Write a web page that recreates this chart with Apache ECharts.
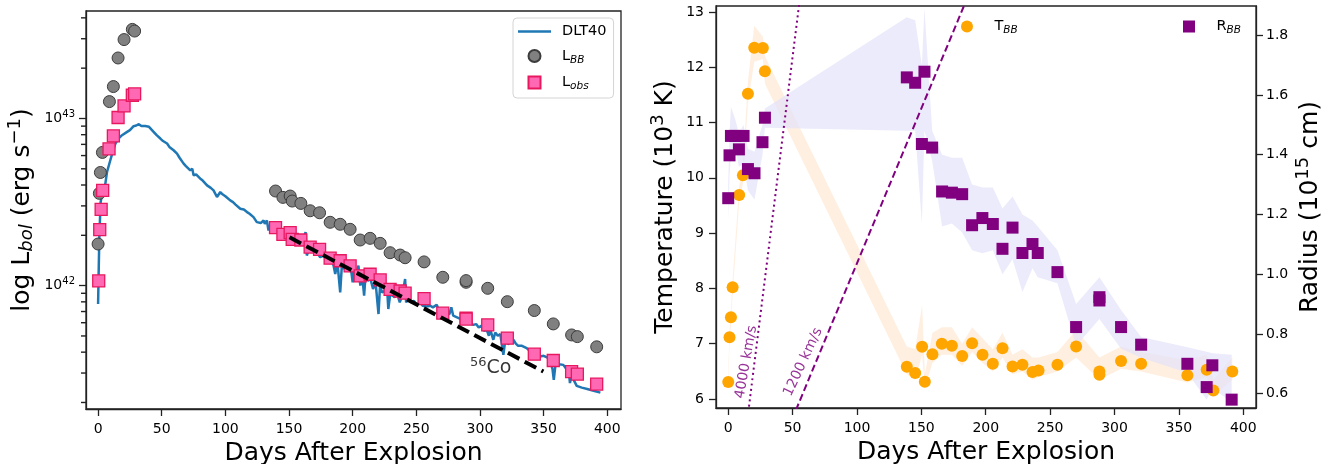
<!DOCTYPE html>
<html><head><meta charset="utf-8">
<script src="https://cdn.jsdelivr.net/npm/echarts@6/dist/echarts.min.js"></script>
<style>html,body{margin:0;padding:0;background:#fff}#c{width:1327px;height:464px}</style>
</head><body><div id="c"></div>
<script>
// ---------- DATA (left panel: day, log10 L) ----------
const dlt40 = [[0,41.89],[0.5,42.1],[1,42.3],[2,42.5],[3.5,42.56],[5.7,42.61],[7,42.68],[9.6,42.75],[11.5,42.8],[13.6,42.85],[16,42.88],[18.8,42.9],[22.8,42.92],[25,42.93],[27.9,42.954],[30,42.958],[32,42.966],[34,42.955],[35.5,42.962],[37,42.955],[40,42.95],[43.6,42.92],[46,42.9],[48.9,42.88],[51,42.865],[54.2,42.85],[56,42.83],[59.3,42.81],[62,42.79],[64,42.765],[67.2,42.73],[69,42.715],[70.5,42.72],[72.4,42.69],[74,42.7],[75,42.66],[77,42.665],[80.3,42.64],[82,42.63],[83,42.64],[85.6,42.6],[87,42.605],[88.5,42.585],[90.7,42.57],[92,42.575],[93.4,42.53],[96,42.56],[98,42.545],[100,42.535],[103.8,42.51],[106,42.5],[108,42.485],[111.7,42.46],[113,42.45],[114.5,42.455],[117,42.44],[119,42.43],[122.1,42.41],[124.7,42.38],[126,42.39],[128,42.375],[130,42.39],[131,42.37],[132.6,42.39],[133.9,42.33],[135,42.36],[137,42.34],[140,42.33],[143,42.31],[146,42.3],[148,42.305],[150,42.29],[152,42.28],[155,42.27],[158,42.275],[161,42.26],[163,42.32],[164,42.18],[166,42.23],[169,42.215],[172,42.2],[174.5,42.17],[177,42.18],[180,42.16],[183,42.16],[185,42.12],[186.3,42.07],[188,42.14],[190.2,41.96],[191.5,42.12],[193,42.1],[195,42.13],[197,42.1],[199,42.08],[200,42.02],[201,42.09],[203,42.07],[204.5,42.12],[206,42.0],[207.5,42.06],[209,41.94],[210,42.05],[212,42.03],[214,42.04],[216,41.98],[218,42.02],[220.3,41.83],[221.5,42.0],[223,41.96],[225.5,41.97],[227,41.99],[228,41.86],[229.5,41.95],[231,41.96],[233,41.93],[235,41.95],[237,41.9],[239,41.94],[241.2,42.04],[242,41.9],[244,41.92],[246,41.9],[248,41.91],[250.4,41.885],[253,41.9],[255,41.88],[258,41.875],[261,41.88],[263,41.87],[266,41.885],[268,41.85],[270,41.84],[273,41.83],[276,41.83],[277.5,41.87],[279,41.82],[282,41.81],[285,41.8],[288,41.8],[291,41.78],[294.8,41.765],[297,41.77],[299,41.75],[301,41.76],[303,41.73],[305.3,41.735],[307,41.7],[308,41.74],[310.5,41.676],[312,41.72],[314,41.7],[316,41.71],[318.4,41.586],[320,41.68],[322,41.65],[324,41.66],[326.2,41.676],[328,41.655],[330,41.64],[333,41.64],[336.7,41.626],[339,41.61],[342,41.6],[344,41.59],[347.2,41.576],[350,41.58],[353,41.57],[355,41.56],[357,41.5],[358,41.437],[359.5,41.54],[362,41.53],[365.5,41.526],[368,41.5],[370,41.47],[370.7,41.417],[372,41.47],[374,41.43],[376,41.4],[380,41.39],[385,41.38],[390,41.37],[394.6,41.36]];
const lbb = [[0,42.249],[1,42.552],[1.8,42.677],[3.4,42.797],[8.9,43.101],[12,43.191],[15.7,43.362],[20.4,43.472],[26.9,43.533],[28.7,43.523],[139.4,42.566],[145.2,42.528],[150.9,42.536],[152.5,42.506],[159.3,42.492],[166.6,42.448],[174,42.436],[182.3,42.379],[190.2,42.367],[198,42.337],[205.9,42.273],[213.7,42.283],[221.6,42.253],[229.4,42.197],[237.3,42.183],[241.2,42.167],[256.1,42.142],[270.8,42.05],[289.1,42.02],[289.1,42.03],[306.1,41.984],[321.5,41.904],[342.7,41.851],[357.6,41.771],[372,41.705],[376.5,41.695],[391.7,41.634]];
const lobs = [[0.5,42.028],[1.3,42.335],[2.4,42.456],[3.6,42.57],[8.6,42.818],[12,42.896],[15.7,43.006],[20.4,43.075],[26.9,43.139],[28.7,43.147],[139.4,42.347],[145.2,42.307],[150.9,42.317],[152.5,42.277],[159.3,42.273],[166.6,42.231],[174,42.217],[182.3,42.164],[190.2,42.149],[198,42.118],[205.9,42.058],[213.7,42.068],[221.6,42.034],[229.4,41.978],[237.3,41.968],[241.2,41.955],[256.1,41.922],[270.8,41.835],[289.1,41.805],[289.1,41.8],[306.1,41.765],[321.5,41.686],[342.7,41.59],[357.6,41.552],[372,41.486],[376.5,41.471],[391.7,41.411]];
const co56Line = [[150.4,42.289],[349.8,41.486]];
const co56LabelPos = [308.4,41.508];
const lumMajorExp = [42,43];
const lumMinorTicks = [2e41,3e41,4e41,5e41,6e41,7e41,8e41,9e41,2e42,3e42,4e42,5e42,6e42,7e42,8e42,9e42,2e43,3e43,4e43];
const dayTicks = [0,50,100,150,200,250,300,350,400];

// ---------- DATA (right panel) ----------
const tbb = [[0,6.307],[1,7.119],[2.1,7.48],[3.4,8.02],[8.5,9.688],[11.4,10.049],[15.3,11.523],[20.2,12.354],[26.9,12.347],[28.5,11.926],[138.7,6.583],[145.2,6.469],[150.6,6.944],[152.7,6.312],[158.6,6.812],[165.9,6.998],[173.7,6.962],[181.7,6.78],[189.4,7.01],[197.5,6.8],[205.5,6.637],[213,6.92],[220.8,6.59],[228.5,6.62],[236.3,6.487],[241,6.517],[255.7,6.619],[270.2,6.95],[288.3,6.498],[288.3,6.44],[305.1,6.69],[320.7,6.637],[356.6,6.43],[371.6,6.529],[376.8,6.155],[391.5,6.498]];
const rbb = [[0,1.2545],[1,1.398],[2.1,1.463],[5.4,1.463],[8.3,1.418],[11.9,1.463],[15.3,1.352],[20.4,1.338],[26.6,1.442],[28.5,1.524],[138.7,1.659],[145.2,1.641],[150.4,1.436],[152.4,1.678],[158.4,1.424],[166.1,1.277],[173.7,1.273],[181.7,1.268],[189.4,1.164],[197.4,1.188],[205.5,1.168],[213,1.085],[220.8,1.156],[228.5,1.071],[236.3,1.101],[240.4,1.071],[255.7,1.007],[270.2,0.823],[288.3,0.923],[288.3,0.912],[305.1,0.823],[320.7,0.764],[356.6,0.7],[371.6,0.622],[376,0.695],[391,0.58]];
// bands: [day, low, high]
const tBand = [[0,6.2,6.45],[1,7.0,7.25],[2.1,7.35,7.6],[3.4,7.9,8.15],[8.5,9.55,9.85],[11.4,9.9,10.25],[15.3,11.35,11.75],[20.2,12.1,12.75],[26.9,12.15,12.55],[28.5,11.7,12.2],[138.7,6.45,6.95],[145.2,6.35,6.9],[150.6,6.8,7.7],[152.7,6.2,6.45],[158.6,6.65,7.2],[165.9,6.8,7.3],[173.7,6.8,7.3],[181.7,6.6,7.0],[189.4,6.85,7.3],[197.5,6.65,7.1],[205.5,6.5,6.9],[213,6.75,7.2],[220.8,6.45,6.8],[228.5,6.5,6.9],[236.3,6.35,6.75],[241,6.4,6.75],[255.7,6.5,6.85],[270.2,6.75,7.25],[288.3,6.35,6.75],[305.1,6.55,6.95],[320.7,6.5,6.85],[356.6,6.3,6.7],[371.6,6.4,6.8],[376.8,6.05,6.35],[391.5,6.35,6.75]];
const rBand = [[0,1.18,1.3],[1,1.33,1.47],[2.1,1.4,1.56],[5.4,1.42,1.52],[8.3,1.36,1.47],[11.9,1.37,1.5],[15.3,1.28,1.42],[20.4,1.25,1.41],[26.6,1.4,1.5],[28.5,1.49,1.555],[138.7,1.48,1.86],[145.2,1.48,1.85],[150.4,1.17,1.7],[152.4,1.48,1.89],[158.4,1.38,1.48],[166.1,1.16,1.4],[173.7,1.17,1.39],[181.7,1.14,1.39],[189.4,1.08,1.3],[197.4,1.07,1.29],[205.5,1.08,1.29],[213,1.0,1.22],[220.8,1.05,1.26],[228.5,0.94,1.2],[236.3,1.02,1.18],[240.4,0.99,1.16],[255.7,0.97,1.08],[270.2,0.76,0.9],[288.3,0.85,0.99],[305.1,0.75,0.88],[320.7,0.72,0.79],[356.6,0.67,0.755],[371.6,0.58,0.74],[376,0.62,0.735],[391,0.57,0.73]];
const vel4000 = [[10,0.3456],[60,2.0736]];
const vel1200 = [[40,0.41472],[200,2.0736]];
const velLabels = [{name:'4000 km/s', pos:[14.0,6.67], rot:80},{name:'1200 km/s', pos:[58.2,6.67], rot:65}];
const tempTicks = [6,7,8,9,10,11,12,13];
const radTicks = [0.6,0.8,1.0,1.2,1.4,1.6,1.8];

// ---------- CHART ----------
const toL = a => a.map(p => [p[0], Math.pow(10, p[1])]);
const AX = '#222';
const FONT = 'DejaVu Sans';
const lineStyle = {color: AX, width: 1.3};
const LINE_ICON = 'path://M0,0H33V2.5H0Z';
const SQUARE_ICON = 'path://M0,0H10V10H0Z';
const LEFT_XMIN = -9.5, LEFT_XMAX = 410.8;

function xAxisDef(grid, min, max) {
  return {type:'value', gridIndex:grid, min:min, max:max, position:'bottom',
    axisLine:{show:true, onZero:false, lineStyle}, splitLine:{show:false},
    axisTick:{show:true, length:7, customValues:dayTicks, lineStyle},
    axisLabel:{customValues:dayTicks, fontSize:14, color:'#000', margin:13, fontFamily:FONT},
    name:'Days After Explosion', nameLocation:'middle', nameGap:32,
    nameTextStyle:{fontSize:25, color:'#000', fontFamily:FONT}};
}

function bandRender(band, fill) {
  return function(params, api) {
    if (params.dataIndex !== 0) return;
    const up = band.map(b => api.coord([b[0], b[2]]));
    const lo = band.slice().reverse().map(b => api.coord([b[0], b[1]]));
    return {type:'polygon', shape:{points: up.concat(lo)}, style:{fill: fill}};
  };
}

const legendNames = {'DLT40':'DLT40', 'L_BB':'L{sub|BB}', 'L_obs':'L{sub|obs}', 'T_BB':'T{sub|BB}', 'R_BB':'R{sub|BB}'};
const legendText = {fontSize:14.5, color:'#000', fontFamily:FONT, padding:[0,0,0,6],
  rich:{sub:{fontSize:10.5, fontStyle:'italic', fontFamily:FONT, padding:[8,0,0,0]}}};

const chart = echarts.init(document.getElementById('c'), null, {renderer:'canvas'});
chart.setOption({
  animation:false,
  textStyle:{fontFamily:FONT},
  grid:[
    {left:86, top:11, width:535, height:398, show:true, borderColor:AX, borderWidth:1.3, backgroundColor:'transparent',
     containLabel:false, outerBoundsMode:'none'},
    {left:716, top:6, width:540, height:402, show:true, borderColor:AX, borderWidth:1.3, backgroundColor:'transparent',
     containLabel:false, outerBoundsMode:'none'}
  ],
  xAxis:[ xAxisDef(0, LEFT_XMIN, LEFT_XMAX), xAxisDef(1, -9.5, 409.9) ],
  yAxis:[
    {type:'log', logBase:10, gridIndex:0, position:'left', min:Math.pow(10,41.262), max:Math.pow(10,43.643),
     axisLine:{show:true, onZero:false, lineStyle}, splitLine:{show:false}, minorTick:{show:false},
     axisTick:{show:true, length:7, customValues:lumMajorExp.map(e=>Math.pow(10,e)), lineStyle},
     axisLabel:{customValues:lumMajorExp.map(e=>Math.pow(10,e)), margin:11, fontSize:14, color:'#000',
       formatter: v => '10{sup|' + Math.round(Math.log10(v)) + '}',
       rich:{sup:{fontSize:10, fontFamily:FONT, padding:[0,0,9,0]}}},
     name:'log L{sub|bol} (erg s{sup|−1})', nameLocation:'middle', nameGap:48, nameRotate:90,
     nameTextStyle:{fontSize:25, color:'#000', fontFamily:FONT,
       rich:{sub:{fontSize:18, fontStyle:'italic', fontFamily:FONT, padding:[10,0,0,0]},
             sup:{fontSize:18, fontFamily:FONT, padding:[0,0,14,0]}}}},
    {type:'value', gridIndex:1, position:'left', min:5.838, max:13.108,
     axisLine:{show:true, onZero:false, lineStyle}, splitLine:{show:false},
     axisTick:{show:true, length:7, customValues:tempTicks, lineStyle},
     axisLabel:{customValues:tempTicks, fontSize:14, color:'#000', margin:12},
     name:'Temperature (10{sup|3} K)', nameLocation:'middle', nameGap:35, nameRotate:90,
     nameTextStyle:{fontSize:25, color:'#000', fontFamily:FONT,
       rich:{sup:{fontSize:18, fontFamily:FONT, padding:[0,0,14,0]}}}},
    {type:'value', gridIndex:1, position:'right', min:0.552, max:1.898,
     axisLine:{show:true, onZero:false, lineStyle}, splitLine:{show:false},
     axisTick:{show:true, length:7, customValues:radTicks, lineStyle},
     axisLabel:{customValues:radTicks, fontSize:14, color:'#000', margin:10, formatter: v => v.toFixed(1)},
     name:'Radius (10{sup|15} cm)', nameLocation:'middle', nameGap:38, nameRotate:90,
     nameTextStyle:{fontSize:25, color:'#000', fontFamily:FONT,
       rich:{sup:{fontSize:18, fontFamily:FONT, padding:[0,0,14,0]}}}}
  ],
  legend:[
    {data:[{name:'DLT40', icon:LINE_ICON},{name:'L_BB', icon:'circle'},{name:'L_obs', icon:SQUARE_ICON}],
     orient:'vertical', left:513, top:18, itemWidth:33, itemHeight:12, itemGap:9.5, symbolKeepAspect:true,
     padding:[6,7,6,5], backgroundColor:'#fff', borderColor:'#d4d4d4', borderWidth:1, borderRadius:4,
     formatter: n => legendNames[n], textStyle:legendText, selectedMode:false},
    {data:[{name:'T_BB', icon:'circle'}], left:961, top:19, itemWidth:33, itemHeight:12, padding:0, symbolKeepAspect:true,
     formatter: n => legendNames[n], textStyle:legendText, selectedMode:false},
    {data:[{name:'R_BB', icon:SQUARE_ICON}], left:1183, top:19, itemWidth:33, itemHeight:12, padding:0, symbolKeepAspect:true,
     formatter: n => legendNames[n], textStyle:legendText, selectedMode:false}
  ],
  series:[
    {name:'DLT40', type:'line', xAxisIndex:0, yAxisIndex:0, data:toL(dlt40), symbol:'none', showSymbol:false,
     lineStyle:{color:'#1f77b4', width:2.5}, itemStyle:{color:'#1f77b4'}, z:2},
    {name:'L_BB', type:'scatter', xAxisIndex:0, yAxisIndex:0, data:toL(lbb), symbol:'circle', symbolSize:12,
     itemStyle:{color:'#808080', borderColor:'#3c3c3c', borderWidth:1, opacity:1}, z:3},
    {name:'L_obs', type:'scatter', xAxisIndex:0, yAxisIndex:0, data:toL(lobs), symbol:'rect', symbolSize:12,
     itemStyle:{color:'#FF69B4', borderColor:'#E8185F', borderWidth:1.3, opacity:1}, z:4},
    {name:'co56', type:'line', xAxisIndex:0, yAxisIndex:0, data:toL(co56Line), symbol:'none',
     lineStyle:{color:'#000', width:4, type:[13,6]}, z:5, silent:true},
    {name:'co56label', type:'scatter', xAxisIndex:0, yAxisIndex:0, data:toL([co56LabelPos]), symbolSize:0, silent:true,
     label:{show:true, position:'inside', formatter:'{sup|56}{co|Co}', color:'#000',
       rich:{sup:{fontSize:13, fontFamily:FONT, color:'#000', padding:[0,0,10,0]}, co:{fontSize:19, fontFamily:FONT, color:'#000'}}}, z:6},
    // minor ticks of the log axis, drawn at the left spine through the axis scales
    {name:'minorTicks', type:'custom', xAxisIndex:0, yAxisIndex:0, clip:false, silent:true, z:10,
     data: lumMinorTicks.map(v => [LEFT_XMIN, v]),
     renderItem: (params, api) => {
       const p = api.coord([api.value(0), api.value(1)]);
       return {type:'rect', shape:{x:p[0]-5, y:p[1]-0.7, width:5, height:1.4}, style:{fill:AX}};
     }},

    {name:'tband', type:'custom', xAxisIndex:1, yAxisIndex:1, data:tBand, encode:{x:0, y:[1,2]},
     renderItem: bandRender(tBand, 'rgba(255,195,140,0.27)'), clip:true, silent:true, z:1},
    {name:'rband', type:'custom', xAxisIndex:1, yAxisIndex:2, data:rBand, encode:{x:0, y:[1,2]},
     renderItem: bandRender(rBand, 'rgba(226,226,250,0.7)'), clip:true, silent:true, z:1},
    {name:'v4000', type:'line', xAxisIndex:1, yAxisIndex:2, data:vel4000, symbol:'none', clip:true,
     lineStyle:{color:'#800080', width:2, type:[2,3.3]}, z:2, silent:true},
    {name:'v1200', type:'line', xAxisIndex:1, yAxisIndex:2, data:vel1200, symbol:'none', clip:true,
     lineStyle:{color:'#800080', width:2, type:[7,3.5]}, z:2, silent:true},
    {name:'T_BB', type:'scatter', xAxisIndex:1, yAxisIndex:1, data:tbb, symbol:'circle', symbolSize:12,
     itemStyle:{color:'#FFA500', opacity:1}, z:3},
    {name:'R_BB', type:'scatter', xAxisIndex:1, yAxisIndex:2, data:rbb, symbol:'rect', symbolSize:12,
     itemStyle:{color:'#800080', opacity:1}, z:4},
  ].concat(velLabels.map(v => ({
     name:'lbl'+v.name, type:'scatter', xAxisIndex:1, yAxisIndex:1, data:[v.pos], symbolSize:0, silent:true,
     label:{show:true, position:'inside', rotate:v.rot, formatter:v.name, color:'#800080', fontSize:14, fontFamily:FONT}, z:5})))
});
</script></body></html>
